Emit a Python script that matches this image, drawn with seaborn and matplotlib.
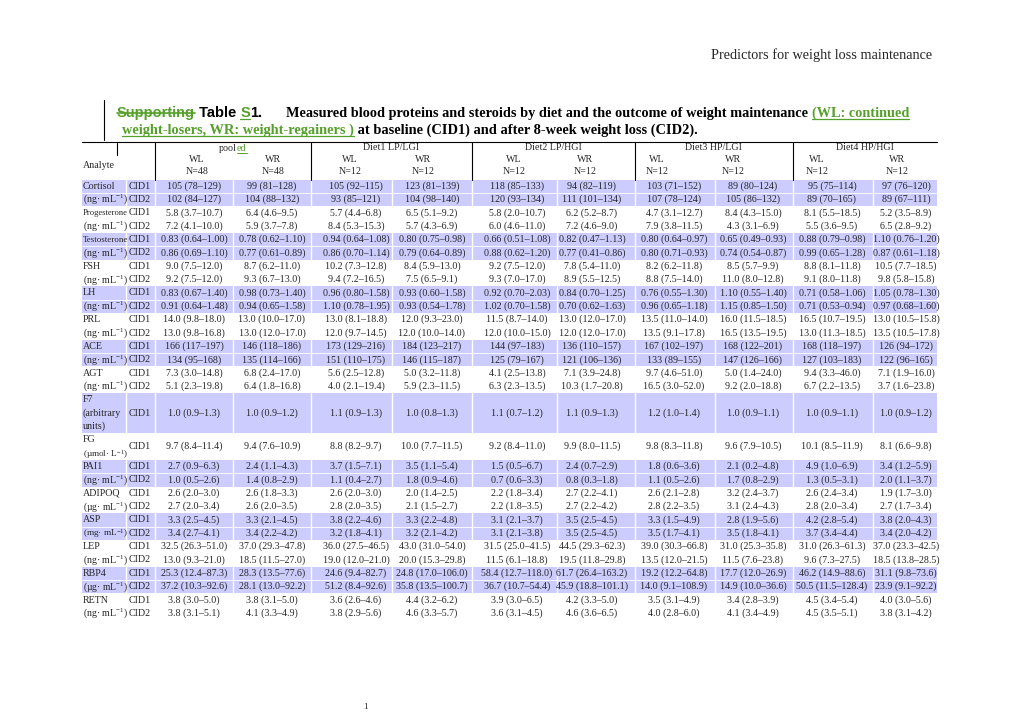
import matplotlib
matplotlib.use('Agg')
import matplotlib.pyplot as plt
import seaborn as sns

# ---- table content -------------------------------------------------------
groups = ['pooled', 'Diet1 LP/LGI', 'Diet2 LP/HGI', 'Diet3 HP/LGI', 'Diet4 HP/HGI']
outcomes = ['WL', 'WR'] * 5
group_n = ['N=48', 'N=48'] + ['N=12'] * 8

analyte_names = ['Cortisol', 'Progesterone', 'Testosterone', 'FSH', 'LH', 'PRL', 'ACE', 'AGT',
                 'F7', 'FG', 'PAI1', 'ADIPOQ', 'ASP', 'LEP', 'RBP4', 'RETN']
analyte_units = ['(ng· mL$^{-1}$)'] * 8 + ['(arbitrary\nunits)', '(µmol· L$^{-1}$)', '(ng· mL$^{-1}$)',
                 '(µg· mL$^{-1}$)', '(mg· mL$^{-1}$)', '(ng· mL$^{-1}$)', '(µg· mL$^{-1}$)', '(ng· mL$^{-1}$)']

cortisol = [
    ['105 (78–129)', '99 (81–128)', '105 (92–115)', '123 (81–139)', '118 (85–133)', '94 (82–119)', '103 (71–152)', '89 (80–124)', '95 (75–114)', '97 (76–120)'],
    ['102 (84–127)', '104 (88–132)', '93 (85–121)', '104 (98–140)', '120 (93–134)', '111 (101–134)', '107 (78–124)', '105 (86–132)', '89 (70–165)', '89 (67–111)']]
progesterone = [
    ['5.8 (3.7–10.7)', '6.4 (4.6–9.5)', '5.7 (4.4–6.8)', '6.5 (5.1–9.2)', '5.8 (2.0–10.7)', '6.2 (5.2–8.7)', '4.7 (3.1–12.7)', '8.4 (4.3–15.0)', '8.1 (5.5–18.5)', '5.2 (3.5–8.9)'],
    ['7.2 (4.1–10.0)', '5.9 (3.7–7.8)', '8.4 (5.3–15.3)', '5.7 (4.3–6.9)', '6.0 (4.6–11.0)', '7.2 (4.6–9.0)', '7.9 (3.8–11.5)', '4.3 (3.1–6.9)', '5.5 (3.6–9.5)', '6.5 (2.8–9.2)']]
testosterone = [
    ['0.83 (0.64–1.00)', '0.78 (0.62–1.10)', '0.94 (0.64–1.08)', '0.80 (0.75–0.98)', '0.66 (0.51–1.08)', '0.82 (0.47–1.13)', '0.80 (0.64–0.97)', '0.65 (0.49–0.93)', '0.88 (0.79–0.98)', '1.10 (0.76–1.20)'],
    ['0.86 (0.69–1.10)', '0.77 (0.61–0.89)', '0.86 (0.70–1.14)', '0.79 (0.64–0.89)', '0.88 (0.62–1.20)', '0.77 (0.41–0.86)', '0.80 (0.71–0.93)', '0.74 (0.54–0.87)', '0.99 (0.65–1.28)', '0.87 (0.61–1.18)']]
fsh = [
    ['9.0 (7.5–12.0)', '8.7 (6.2–11.0)', '10.2 (7.3–12.8)', '8.4 (5.9–13.0)', '9.2 (7.5–12.0)', '7.8 (5.4–11.0)', '8.2 (6.2–11.8)', '8.5 (5.7–9.9)', '8.8 (8.1–11.8)', '10.5 (7.7–18.5)'],
    ['9.2 (7.5–12.0)', '9.3 (6.7–13.0)', '9.4 (7.2–16.5)', '7.5 (6.5–9.1)', '9.3 (7.0–17.0)', '8.9 (5.5–12.5)', '8.8 (7.5–14.0)', '11.0 (8.0–12.8)', '9.1 (8.0–11.8)', '9.8 (5.8–15.8)']]
lh = [
    ['0.83 (0.67–1.40)', '0.98 (0.73–1.40)', '0.96 (0.80–1.58)', '0.93 (0.60–1.58)', '0.92 (0.70–2.03)', '0.84 (0.70–1.25)', '0.76 (0.55–1.30)', '1.10 (0.55–1.40)', '0.71 (0.58–1.06)', '1.05 (0.78–1.30)'],
    ['0.91 (0.64–1.48)', '0.94 (0.65–1.58)', '1.10 (0.78–1.95)', '0.93 (0.54–1.78)', '1.02 (0.70–1.58)', '0.70 (0.62–1.63)', '0.96 (0.65–1.18)', '1.15 (0.85–1.50)', '0.71 (0.53–0.94)', '0.97 (0.68–1.60)']]
prl = [
    ['14.0 (9.8–18.0)', '13.0 (10.0–17.0)', '13.0 (8.1–18.8)', '12.0 (9.3–23.0)', '11.5 (8.7–14.0)', '13.0 (12.0–17.0)', '13.5 (11.0–14.0)', '16.0 (11.5–18.5)', '16.5 (10.7–19.5)', '13.0 (10.5–15.8)'],
    ['13.0 (9.8–16.8)', '13.0 (12.0–17.0)', '12.0 (9.7–14.5)', '12.0 (10.0–14.0)', '12.0 (10.0–15.0)', '12.0 (12.0–17.0)', '13.5 (9.1–17.8)', '16.5 (13.5–19.5)', '13.0 (11.3–18.5)', '13.5 (10.5–17.8)']]
ace = [
    ['166 (117–197)', '146 (118–186)', '173 (129–216)', '184 (123–217)', '144 (97–183)', '136 (110–157)', '167 (102–197)', '168 (122–201)', '168 (118–197)', '126 (94–172)'],
    ['134 (95–168)', '135 (114–166)', '151 (110–175)', '146 (115–187)', '125 (79–167)', '121 (106–136)', '133 (89–155)', '147 (126–166)', '127 (103–183)', '122 (96–165)']]
agt = [
    ['7.3 (3.0–14.8)', '6.8 (2.4–17.0)', '5.6 (2.5–12.8)', '5.0 (3.2–11.8)', '4.1 (2.5–13.8)', '7.1 (3.9–24.8)', '9.7 (4.6–51.0)', '5.0 (1.4–24.0)', '9.4 (3.3–46.0)', '7.1 (1.9–16.0)'],
    ['5.1 (2.3–19.8)', '6.4 (1.8–16.8)', '4.0 (2.1–19.4)', '5.9 (2.3–11.5)', '6.3 (2.3–13.5)', '10.3 (1.7–20.8)', '16.5 (3.0–52.0)', '9.2 (2.0–18.8)', '6.7 (2.2–13.5)', '3.7 (1.6–23.8)']]
f7 = [
    ['1.0 (0.9–1.3)', '1.0 (0.9–1.2)', '1.1 (0.9–1.3)', '1.0 (0.8–1.3)', '1.1 (0.7–1.2)', '1.1 (0.9–1.3)', '1.2 (1.0–1.4)', '1.0 (0.9–1.1)', '1.0 (0.9–1.1)', '1.0 (0.9–1.2)']]
fg = [
    ['9.7 (8.4–11.4)', '9.4 (7.6–10.9)', '8.8 (8.2–9.7)', '10.0 (7.7–11.5)', '9.2 (8.4–11.0)', '9.9 (8.0–11.5)', '9.8 (8.3–11.8)', '9.6 (7.9–10.5)', '10.1 (8.5–11.9)', '8.1 (6.6–9.8)']]
pai1 = [
    ['2.7 (0.9–6.3)', '2.4 (1.1–4.3)', '3.7 (1.5–7.1)', '3.5 (1.1–5.4)', '1.5 (0.5–6.7)', '2.4 (0.7–2.9)', '1.8 (0.6–3.6)', '2.1 (0.2–4.8)', '4.9 (1.0–6.9)', '3.4 (1.2–5.9)'],
    ['1.0 (0.5–2.6)', '1.4 (0.8–2.9)', '1.1 (0.4–2.7)', '1.8 (0.9–4.6)', '0.7 (0.6–3.3)', '0.8 (0.3–1.8)', '1.1 (0.5–2.6)', '1.7 (0.8–2.9)', '1.3 (0.5–3.1)', '2.0 (1.1–3.7)']]
adipoq = [
    ['2.6 (2.0–3.0)', '2.6 (1.8–3.3)', '2.6 (2.0–3.0)', '2.0 (1.4–2.5)', '2.2 (1.8–3.4)', '2.7 (2.2–4.1)', '2.6 (2.1–2.8)', '3.2 (2.4–3.7)', '2.6 (2.4–3.4)', '1.9 (1.7–3.0)'],
    ['2.7 (2.0–3.4)', '2.6 (2.0–3.5)', '2.8 (2.0–3.5)', '2.1 (1.5–2.7)', '2.2 (1.8–3.5)', '2.7 (2.2–4.2)', '2.8 (2.2–3.5)', '3.1 (2.4–4.3)', '2.8 (2.0–3.4)', '2.7 (1.7–3.4)']]
asp = [
    ['3.3 (2.5–4.5)', '3.3 (2.1–4.5)', '3.8 (2.2–4.6)', '3.3 (2.2–4.8)', '3.1 (2.1–3.7)', '3.5 (2.5–4.5)', '3.3 (1.5–4.9)', '2.8 (1.9–5.6)', '4.2 (2.8–5.4)', '3.8 (2.0–4.3)'],
    ['3.4 (2.7–4.1)', '3.4 (2.2–4.2)', '3.2 (1.8–4.1)', '3.2 (2.1–4.2)', '3.1 (2.1–3.8)', '3.5 (2.5–4.5)', '3.5 (1.7–4.1)', '3.5 (1.8–4.1)', '3.7 (3.4–4.4)', '3.4 (2.0–4.2)']]
lep = [
    ['32.5 (26.3–51.0)', '37.0 (29.3–47.8)', '36.0 (27.5–46.5)', '43.0 (31.0–54.0)', '31.5 (25.0–41.5)', '44.5 (29.3–62.3)', '39.0 (30.3–66.8)', '31.0 (25.3–35.8)', '31.0 (26.3–61.3)', '37.0 (23.3–42.5)'],
    ['13.0 (9.3–21.0)', '18.5 (11.5–27.0)', '19.0 (12.0–21.0)', '20.0 (15.3–29.8)', '11.5 (6.1–18.8)', '19.5 (11.8–29.8)', '13.5 (12.0–21.5)', '11.5 (7.6–23.8)', '9.6 (7.3–27.5)', '18.5 (13.8–28.5)']]
rbp4 = [
    ['25.3 (12.4–87.3)', '28.3 (13.5–77.6)', '24.6 (9.4–82.7)', '24.8 (17.0–106.0)', '58.4 (12.7–118.0)', '61.7 (26.4–163.2)', '19.2 (12.2–64.8)', '17.7 (12.0–26.9)', '46.2 (14.9–88.6)', '31.1 (9.8–73.6)'],
    ['37.2 (10.3–92.6)', '28.1 (13.0–92.2)', '51.2 (8.4–92.6)', '35.8 (13.5–100.7)', '36.7 (10.7–54.4)', '45.9 (18.8–101.1)', '14.0 (9.1–108.9)', '14.9 (10.0–36.6)', '50.5 (11.5–128.4)', '23.9 (9.1–92.2)']]
retn = [
    ['3.8 (3.0–5.0)', '3.8 (3.1–5.0)', '3.6 (2.6–4.6)', '4.4 (3.2–6.2)', '3.9 (3.0–6.5)', '4.2 (3.3–5.0)', '3.5 (3.1–4.9)', '3.4 (2.8–3.9)', '4.5 (3.4–5.4)', '4.0 (3.0–5.6)'],
    ['3.8 (3.1–5.1)', '4.1 (3.3–4.9)', '3.8 (2.9–5.6)', '4.6 (3.3–5.7)', '3.6 (3.1–4.5)', '4.6 (3.6–6.5)', '4.0 (2.8–6.0)', '4.1 (3.4–4.9)', '4.5 (3.5–5.1)', '3.8 (3.1–4.2)']]

analyte_rows = [cortisol, progesterone, testosterone, fsh, lh, prl, ace, agt,
                f7, fg, pai1, adipoq, asp, lep, rbp4, retn]
cid_labels = ['CID1', 'CID2']

# ---- layout ---------------------------------------------------------------
GREEN = '#55a02b'
SHADE = '#ccccff'
col_edges = [82, 126, 155, 233, 311, 392, 472, 557, 635, 715, 793, 873, 937]
data_x = [194, 272, 356, 432, 517, 592, 674, 753, 832, 906]
head_x = [197, 273, 350, 423, 514, 585, 657, 733, 817, 897]
group_edges = [155, 311, 472, 635, 793, 937]
line_h = 13.35
top = 179.5
fs = 7.2
label_w = 45

sns.set_style('white')
plt.rcParams['font.family'] = ['Liberation Serif', 'DejaVu Serif']
plt.rcParams['mathtext.default'] = 'regular'

fig = plt.figure(figsize=(10.2, 7.2), dpi=100)
ax = fig.add_axes([0, 0, 1, 1])
ax.set_xlim(0, 1020)
ax.set_ylim(720, 0)
ax.axis('off')
renderer = fig.canvas.get_renderer()


def draw_runs(x, y, runs):
    # runs: (text, family, size, color, underline, strike)
    for text, family, size, color, under, strike in runs:
        t = ax.text(x, y, text, family=family, fontsize=size, fontweight='bold',
                    color=color, va='baseline', ha='left')
        w = t.get_window_extent(renderer).width
        if under:
            ax.plot([x, x + w], [y + 2, y + 2], color=color, lw=0.9)
        if strike:
            ax.plot([x, x + w], [y - 4.5, y - 4.5], color=color, lw=1.2)
        x += w
    return x


def label(x, y, s):
    # analyte column is narrow: shrink long labels to fit it
    t = ax.text(x, y, s, fontsize=fs, va='center', ha='left')
    w = t.get_window_extent(renderer).width
    if w > label_w:
        t.set_fontsize(fs * label_w / w)
    return t


# page header
ax.text(932, 59, 'Predictors for weight loss maintenance', fontsize=10.3, ha='right', va='baseline')

# title
sans = 'Liberation Sans'
serif = 'Liberation Serif'
x = draw_runs(117, 117, [('Supporting', sans, 10.5, GREEN, False, True),
                         (' Table ', sans, 10.5, 'black', False, False),
                         ('S', sans, 10.5, GREEN, True, False),
                         ('1.', sans, 10.5, 'black', False, False)])
x = draw_runs(x + 24, 117, [('Measured blood proteins and steroids by diet and the outcome of weight maintenance ',
                             serif, 10.3, 'black', False, False),
                            ('(WL: continued', serif, 10.3, GREEN, True, False)])
draw_runs(122, 134, [('weight-losers, WR: weight-regainers )', serif, 10.4, GREEN, True, False),
                     (' at baseline (CID1) and after 8-week weight loss (CID2).', serif, 10.4, 'black', False, False)])
ax.plot([104, 104], [100, 140], color='black', lw=0.8)
ax.plot([117, 117], [143, 155], color='black', lw=0.8)

# header
ax.plot([82, 937], [142, 142], color='black', lw=0.8)
for gx in group_edges[:-1]:
    ax.plot([gx, gx], [142, top], color='black', lw=0.8)
ax.text(83, 166, 'Analyte', fontsize=fs, ha='left', va='center')
for i, g in enumerate(groups):
    cx = (group_edges[i] + group_edges[i + 1]) / 2
    if g == 'pooled':
        # "pool" + tracked-change "ed"
        t1 = ax.text(0, 151, 'pool', fontsize=fs, va='baseline')
        w1 = t1.get_window_extent(renderer).width
        t2 = ax.text(0, 151, 'ed', fontsize=fs, va='baseline', color=GREEN)
        w2 = t2.get_window_extent(renderer).width
        x0 = cx - (w1 + w2) / 2
        t1.set_x(x0)
        t2.set_x(x0 + w1)
        ax.plot([x0 + w1, x0 + w1 + w2], [152.5, 152.5], color=GREEN, lw=0.7)
    else:
        ax.text(cx, 148, g, fontsize=fs, ha='center', va='center')
for hx, o, n in zip(head_x, outcomes, group_n):
    ax.text(hx, 160, o, fontsize=fs, ha='center', va='center')
    ax.text(hx, 172, n, fontsize=fs, ha='center', va='center')

# body
y = top
for k, (name, unit, rows) in enumerate(zip(analyte_names, analyte_units, analyte_rows)):
    n_lines = 3 if name == 'F7' else 2
    block_h = n_lines * line_h
    if k % 2 == 0:
        ax.add_patch(plt.Rectangle((col_edges[0], y), col_edges[-1] - col_edges[0], block_h,
                                   color=SHADE, lw=0, zorder=0))
        for cx in col_edges[1:-1]:
            ax.plot([cx, cx], [y, y + block_h], color='white', lw=1, zorder=0.5)
        if len(rows) == 2:
            ax.plot([col_edges[0], col_edges[-1]], [y + line_h, y + line_h], color='white', lw=0.6, zorder=0.5)
    if name == 'F7':
        label(83, y + 0.5 * line_h, name)
        label(83, y + 1.5 * line_h, '(arbitrary')
        label(83, y + 2.5 * line_h, 'units)')
        row_y = [y + 1.5 * line_h]
    elif name == 'FG':
        label(83, y + 0.5 * line_h, name)
        label(83, y + 1.6 * line_h, unit)
        row_y = [y + line_h]
    else:
        label(83, y + 0.5 * line_h, name)
        label(83, y + 1.5 * line_h, unit)
        row_y = [y + 0.5 * line_h, y + 1.5 * line_h]
    for ry, cid, vals in zip(row_y, cid_labels, rows):
        ax.text(129, ry, cid, fontsize=fs, va='center', ha='left')
        for vx, v in zip(data_x, vals):
            ax.text(vx, ry, v, fontsize=fs, va='center', ha='center')
    y += block_h

ax.text(365, 707, '1', fontsize=6.5, ha='center', va='center')

fig.savefig('out.png', dpi=100)
